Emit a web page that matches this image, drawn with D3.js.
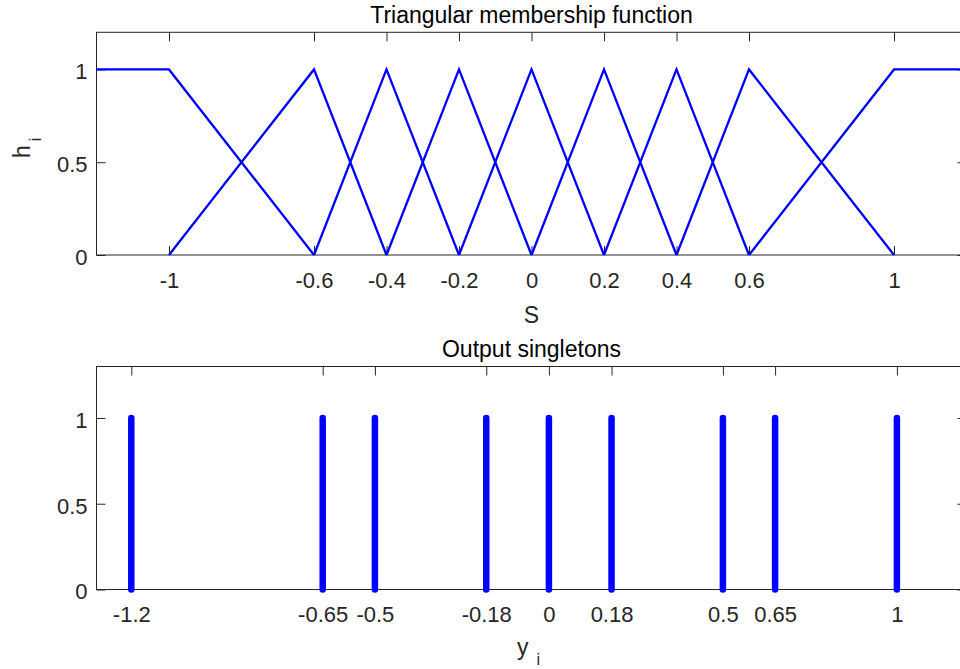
<!DOCTYPE html>
<html>
<head>
<meta charset="utf-8">
<script src="https://cdn.jsdelivr.net/npm/d3@7"></script>
<style>
  html, body { margin: 0; padding: 0; background: #fff; }
  svg { display: block; font-family: "Liberation Sans", Arial, Helvetica, sans-serif; }
</style>
</head>
<body>
<svg id="chart" width="960" height="669"></svg>
<script>
// ---------- data ----------
const mfTickValues = [-1, -0.6, -0.4, -0.2, 0, 0.2, 0.4, 0.6, 1];
const mfTickLabels = ["-1", "-0.6", "-0.4", "-0.2", "0", "0.2", "0.4", "0.6", "1"];
// breakpoints (x) and heights (y) of each membership function
const mfBreakX = [
  [-1.2, -1, -0.6],
  [-1, -0.6, -0.4],
  [-0.6, -0.4, -0.2],
  [-0.4, -0.2, 0],
  [-0.2, 0, 0.2],
  [0, 0.2, 0.4],
  [0.2, 0.4, 0.6],
  [0.4, 0.6, 1],
  [0.6, 1, 1.2]
];
const mfBreakY = [
  [1, 1, 0],
  [0, 1, 0],
  [0, 1, 0],
  [0, 1, 0],
  [0, 1, 0],
  [0, 1, 0],
  [0, 1, 0],
  [0, 1, 0],
  [0, 1, 1]
];
const singletonValues = [-1.2, -0.65, -0.5, -0.18, 0, 0.18, 0.5, 0.65, 1];
const singletonHeights = [1, 1, 1, 1, 1, 1, 1, 1, 1];
const singletonTickLabels = ["-1.2", "-0.65", "-0.5", "-0.18", "0", "0.18", "0.5", "0.65", "1"];
const yTickValues = [0, 0.5, 1];
const yTickLabels = ["0", "0.5", "1"];

// ---------- layout ----------
const svg = d3.select("#chart");
const axisColor = "#262626";
const blue = "#0000ff";
const tickFont = 22, titleFont = 23, labelFont = 23;
const left = 96.5, right = 966.5;

function drawAxes(g, x, y, xTicks, xLabels, top, bottom) {
  const ax = g.append("g");
  const xb = ax.append("g").attr("transform", `translate(0,${bottom})`)
    .call(d3.axisBottom(x).tickValues(xTicks).tickFormat((d, i) => xLabels[i])
      .tickSizeInner(-9).tickSizeOuter(0).tickPadding(17));
  const xt = ax.append("g").attr("transform", `translate(0,${top})`)
    .call(d3.axisTop(x).tickValues(xTicks).tickFormat("").tickSizeInner(-9).tickSizeOuter(0));
  const yl = ax.append("g").attr("transform", `translate(${left},0)`)
    .call(d3.axisLeft(y).tickValues(yTickValues).tickFormat((d, i) => yTickLabels[i])
      .tickSizeInner(-9).tickSizeOuter(0).tickPadding(9));
  const yr = ax.append("g").attr("transform", `translate(${right},0)`)
    .call(d3.axisRight(y).tickValues(yTickValues).tickFormat("").tickSizeInner(-9).tickSizeOuter(0));
  [xb, xt, yl, yr].forEach(s => {
    s.select(".domain").remove();
    s.selectAll("line").attr("stroke", axisColor).attr("stroke-width", 1);
    s.selectAll("text").attr("fill", axisColor).style("font-size", tickFont + "px")
      .style("font-family", '"Liberation Sans", Arial, sans-serif');
  });
  yl.selectAll("text").attr("dy", "0.43em");
  ax.append("rect").attr("x", left).attr("y", top)
    .attr("width", right - left).attr("height", bottom - top)
    .attr("fill", "none").attr("stroke", axisColor).attr("stroke-width", 1);
}

// ---------- top plot ----------
const top1 = 32.3, bottom1 = 255;
const x1 = d3.scaleLinear().domain([-1.2, 1.2]).range([left, right]);
const y1 = d3.scaleLinear().domain([0, 1.2]).range([bottom1, top1]);
const g1 = svg.append("g");
drawAxes(g1, x1, y1, mfTickValues, mfTickLabels, top1, bottom1);

svg.append("defs").append("clipPath").attr("id", "clip1")
  .append("rect").attr("x", left).attr("y", top1 - 5).attr("width", right - left).attr("height", bottom1 - top1 + 10);

const line1 = d3.line().x(d => x1(d[0])).y(d => y1(d[1]));
g1.append("g").attr("clip-path", "url(#clip1)")
  .selectAll("path").data(mfBreakX.map((xs, i) => xs.map((xv, j) => [xv, mfBreakY[i][j]])))
  .join("path")
  .attr("d", line1)
  .attr("fill", "none").attr("stroke", blue).attr("stroke-width", 2.3)
  .attr("stroke-linejoin", "miter");

g1.append("text").attr("x", (left + right) / 2).attr("y", 23)
  .attr("text-anchor", "middle").style("font-size", titleFont + "px").attr("fill", "#000")
  .text("Triangular membership function");
g1.append("text").attr("x", (left + right) / 2).attr("y", 322.5)
  .attr("text-anchor", "middle").style("font-size", labelFont + "px").attr("fill", axisColor)
  .text("S");
const hl = g1.append("text").attr("transform", "translate(30,158) rotate(-90)")
  .attr("text-anchor", "start").style("font-size", labelFont + "px").attr("fill", axisColor);
hl.append("tspan").text("h");
hl.append("tspan").attr("dx", 4).attr("dy", 11).style("font-size", "16px").text("i");

// ---------- bottom plot ----------
const top2 = 366.5, bottom2 = 589.5;
const x2 = d3.scaleLinear().domain([-1.3, 1.2]).range([left, right]);
const y2 = d3.scaleLinear().domain([0, 1.3]).range([bottom2, top2]);
const g2 = svg.append("g");
drawAxes(g2, x2, y2, singletonValues, singletonTickLabels, top2, bottom2);

g2.append("g").selectAll("line").data(singletonValues)
  .join("line")
  .attr("x1", d => x2(d)).attr("x2", d => x2(d))
  .attr("y1", y2(0)).attr("y2", (d, i) => y2(singletonHeights[i]))
  .attr("stroke", blue).attr("stroke-width", 6.5).attr("stroke-linecap", "round");

g2.append("text").attr("x", (left + right) / 2).attr("y", 357)
  .attr("text-anchor", "middle").style("font-size", titleFont + "px").attr("fill", "#000")
  .text("Output singletons");
const yl2 = g2.append("text").attr("x", 517).attr("y", 655)
  .attr("text-anchor", "start").style("font-size", labelFont + "px").attr("fill", axisColor);
yl2.append("tspan").text("y");
yl2.append("tspan").attr("dx", 8).attr("dy", 10).style("font-size", "16px").text("i");
</script>
</body>
</html>
